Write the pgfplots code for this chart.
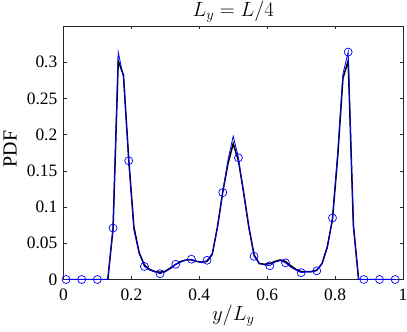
\documentclass[border=0pt]{standalone}
\usepackage[no-math]{fontspec}
\setmainfont{Liberation Serif}
\usepackage{pgfplots}
\pgfplotsset{compat=1.18}
\definecolor{axgray}{rgb}{0.15,0.15,0.15}

\begin{document}
\begin{tikzpicture}
\begin{axis}[
  at={(0,0)}, anchor=south west,
  scale only axis,
  width=339.5bp, height=253.5bp,
  xmin=0, xmax=1, ymin=0, ymax=0.35,
  xtick={0,0.2,0.4,0.6,0.8,1},
  xticklabels={0,0.2,0.4,0.6,0.8,1},
  ytick={0,0.05,0.1,0.15,0.2,0.25,0.3},
  yticklabels={0,0.05,0.1,0.15,0.2,0.25,0.3},
  tick align=inside,
  major tick length=3.4bp,
  axis line style={axgray, line width=0.5bp},
  every tick/.style={axgray, line width=0.5bp},
  ticklabel style={font=\fontsize{17.5}{20}\selectfont, inner sep=0pt},
  /pgf/number format/assume math mode=true,
  xticklabel style={anchor=north, yshift=-9bp},
  yticklabel style={anchor=east, xshift=-6bp},
  every axis title shift=0pt,
  title={$L_y = L/4$},
  title style={at={(axis description cs:0.5,1.0394)}, anchor=base,
    inner sep=0pt, font=\fontsize{20.5}{22}\selectfont},
  xlabel={$y/L_y$},
  xlabel style={at={(axis description cs:0.5,-0.1598)}, anchor=base,
    inner sep=0pt, font=\fontsize{20.5}{22}\selectfont},
  ylabel={PDF},
  ylabel style={at={(axis description cs:-0.138,0.515)}, anchor=base,
    inner sep=0pt, font=\fontsize{20}{22}\selectfont},
]
% reference (black)
\addplot[black, line width=1.5bp, no markers] coordinates {
  (0.0074,0)(0.0228,0)(0.0382,0)(0.0536,0)(0.0690,0)(0.0844,0)(0.0997,0)
  (0.1151,0)(0.1305,0)(0.1459,0.070)(0.1613,0.302)(0.1767,0.282)
  (0.1921,0.166)(0.2075,0.072)(0.2229,0.037)(0.2383,0.020)(0.2536,0.014)
  (0.2690,0.011)(0.2844,0.010)(0.2998,0.0115)(0.3152,0.016)(0.3306,0.021)
  (0.3460,0.025)(0.3614,0.027)(0.3768,0.027)(0.3922,0.025)(0.4075,0.024)
  (0.4229,0.025)(0.4383,0.035)(0.4537,0.073)(0.4691,0.121)(0.4845,0.160)
  (0.4999,0.1876)(0.5153,0.164)(0.5307,0.120)(0.5461,0.072)(0.5614,0.034)
  (0.5768,0.022)(0.5922,0.021)(0.6076,0.022)(0.6230,0.025)(0.6384,0.027)
  (0.6538,0.025)(0.6692,0.019)(0.6846,0.014)(0.7000,0.011)(0.7153,0.011)
  (0.7307,0.011)(0.7461,0.013)(0.7615,0.022)(0.7769,0.045)(0.7923,0.083)
  (0.8077,0.170)(0.8231,0.278)(0.8385,0.302)(0.8539,0.075)(0.8692,0)
  (0.8846,0)(0.9000,0)(0.9154,0)(0.9308,0)(0.9462,0)(0.9616,0)(0.9770,0)};
% model (blue), circles on every third point
\addplot[blue, line width=0.8bp, mark=o, mark size=4bp,
  mark repeat=3, mark phase=1, mark options={line width=0.7bp}] coordinates {
  (0.0074,0)(0.0228,0)(0.0382,0)(0.0536,0)(0.0690,0)(0.0844,0)(0.0997,0)
  (0.1151,0)(0.1305,0)(0.1459,0.071)(0.1613,0.314)(0.1767,0.279)
  (0.1921,0.164)(0.2075,0.068)(0.2229,0.036)(0.2383,0.018)(0.2536,0.013)
  (0.2690,0.0105)(0.2844,0.008)(0.2998,0.0105)(0.3152,0.015)(0.3306,0.021)
  (0.3460,0.024)(0.3614,0.027)(0.3768,0.028)(0.3922,0.025)(0.4075,0.023)
  (0.4229,0.0265)(0.4383,0.036)(0.4537,0.073)(0.4691,0.120)(0.4845,0.165)
  (0.4999,0.198)(0.5153,0.168)(0.5307,0.118)(0.5461,0.071)(0.5614,0.032)
  (0.5768,0.022)(0.5922,0.020)(0.6076,0.019)(0.6230,0.024)(0.6384,0.026)
  (0.6538,0.023)(0.6692,0.017)(0.6846,0.013)(0.7000,0.0095)(0.7153,0.0105)
  (0.7307,0.0105)(0.7461,0.012)(0.7615,0.022)(0.7769,0.043)(0.7923,0.085)
  (0.8077,0.175)(0.8231,0.284)(0.8385,0.314)(0.8539,0.073)(0.8692,0)
  (0.8846,0)(0.9000,0)(0.9154,0)(0.9308,0)(0.9462,0)(0.9616,0)(0.9770,0)};
\end{axis}
\pgfresetboundingbox
\path[use as bounding box] (-63.5bp,-52.5bp) rectangle (343.5bp,279.5bp);
\end{tikzpicture}
\end{document}
